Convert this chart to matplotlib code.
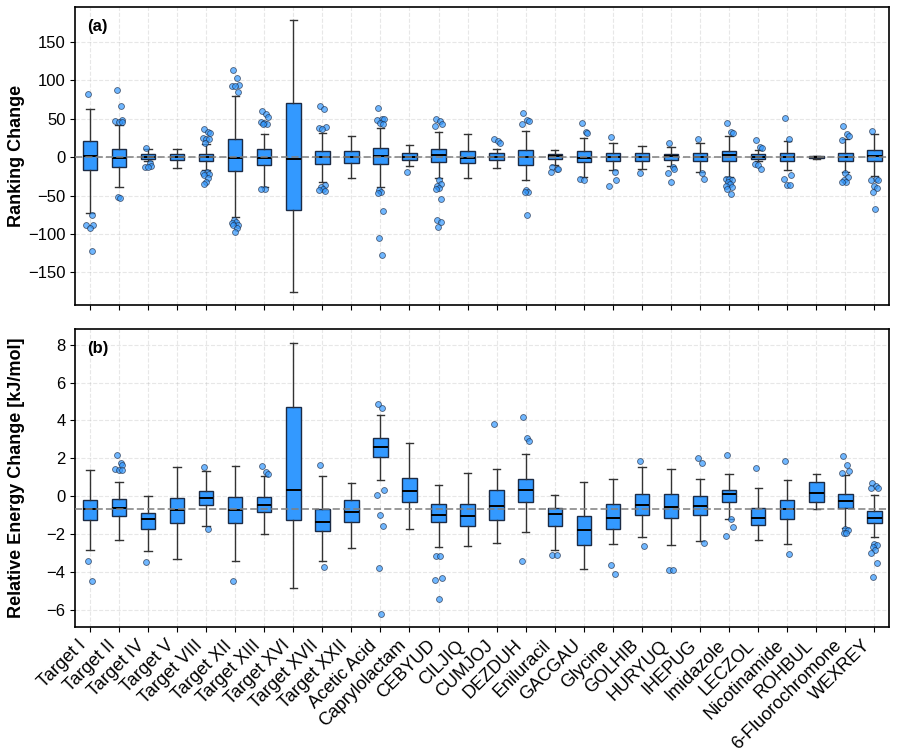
import numpy as np
import matplotlib
matplotlib.use("Agg")
import matplotlib.pyplot as plt

plt.rcParams['font.family'] = ['Liberation Sans', 'DejaVu Sans']

labels = ["Target I", "Target II", "Target IV", "Target V", "Target VIII", "Target XII",
          "Target XIII", "Target XVI", "Target XVII", "Target XXII", "Acetic Acid",
          "Caprylolactam", "CEBYUD", "CILJIQ", "CUMJOJ", "DEZDUH", "Eniluracil", "GACGAU",
          "Glycine", "GOLHIB", "HURYUQ", "IHEPUG", "Imidazole", "LECZOL", "Nicotinamide",
          "ROHBUL", "6-Fluorochromone", "WEXREY"]

# ranking change: whisker low, q1, median, q3, whisker high
rank_lo = [-73, -38.5, -5.6, -13.9, -17, -78, -39, -175, -32.5, -27, -39, -12, -27.7, -27.7,
           -14.7, -30, -10.8, -26, -16.5, -16, -12, -19, -26.4, -5.6, -17.3, -2.6, -19, -25]
rank_q1 = [-17.3, -12.6, -2.2, -4.3, -5.2, -18.2, -10, -69.3, -9, -7.4, -9, -4.3, -6, -7.8,
           -4.3, -10, -2.2, -7, -4.8, -4.8, -3.5, -5.2, -5.6, -2.2, -5.6, -1.3, -5.2, -5.6]
rank_med = [1, -1.3, 0.4, 0.6, 0, -0.6, -1, -3, 0.6, 0, 1.3, 0.6, 2.2, -1.5,
            0, 0, 1.3, -1.3, 0.4, 0.4, 1.7, 0.4, 2.6, 0.6, 0.4, 0, 0.6, 1.7]
rank_q3 = [21.2, 10, 3.5, 3.5, 4.3, 23, 10, 71, 8.2, 7.4, 11.3, 4.8, 10, 7.8,
           4.8, 9, 4.3, 7.4, 5.2, 4.8, 4.3, 4.8, 7.8, 3.5, 5.6, 1.3, 4.8, 8.7]
rank_hi = [62, 42.4, 10, 10, 17, 79, 30, 178, 31, 27, 37.7, 15.6, 33, 30.7,
           10, 34, 9, 25, 19, 15, 13, 18, 27, 9.5, 21.6, 2, 23, 30]
rank_out = [
    [82, -75, -88, -88, -92, -122],
    [87, 67, 48, 47, 46, 46, -52, -53],
    [12, -8, -11, -13, -13],
    [],
    [37, 33, 31, 25, 24, 23, 19, -20, -21, -22, -23, -27, -32, -35],
    [113, 103, 94, 93, 92, 85, -82, -84, -86, -88, -89, -92, -97],
    [60, 56, 52, 46, 44, 43, 43, -41, -41],
    [],
    [66, 63, 39, 38, 36, -36, -39, -41, -43, -44],
    [],
    [64, 50, 49, 48, 45, 43, -43, -45, -47, -70, -105, -128],
    [-20],
    [49, 47, 43, 41, -30, -35, -38, -40, -42, -55, -82, -84, -91],
    [],
    [23, 21, 18],
    [58, 48, 47, 43, -43, -45, -46, -76],
    [-13, -15, -16, -19],
    [45, 33, 31, -28, -30],
    [26, -20, -30, -37],
    [-21],
    [18, -13, -15, -21, -33],
    [24, -21, -28],
    [44, 33, 32, -28, -29, -30, -32, -35, -37, -39, -41, -48],
    [22, 13, 12, -9, -10, -15],
    [51, 24, -23, -28, -36, -36],
    [],
    [40, 30, 28, 22, -21, -26, -30, -32, -32],
    [34, -29, -30, -30, -37, -40, -46, -67],
]

# relative energy change [kJ/mol]
en_lo = [-2.83, -2.34, -2.87, -3.31, -1.6, -3.45, -2.0, -4.85, -3.43, -2.74, 0.86, -1.71, -2.71, -2.62,
         -2.46, -1.9, -2.85, -3.85, -2.55, -2.18, -2.59, -2.36, -1.18, -2.29, -2.55, -0.7, -1.67, -2.18]
en_q1 = [-1.28, -1.04, -1.76, -1.42, -0.49, -1.44, -0.86, -1.25, -1.86, -1.35, 2.06, -0.3, -1.39, -1.57,
         -1.25, -0.3, -1.55, -2.59, -1.71, -0.97, -1.14, -0.97, -0.3, -1.5, -1.18, -0.33, -0.62, -1.44]
en_med = [-0.69, -0.63, -1.2, -0.72, -0.12, -0.74, -0.49, 0.3, -1.34, -0.86, 2.6, 0.25, -1.02, -1.04,
          -0.51, 0.32, -0.95, -1.81, -1.13, -0.49, -0.55, -0.51, 0.09, -1.13, -0.69, 0.19, -0.25, -1.13]
en_q3 = [-0.19, -0.14, -0.91, -0.09, 0.25, -0.07, -0.07, 4.73, -0.69, -0.18, 3.06, 0.97, -0.39, -0.39,
         0.35, 0.88, -0.65, -1.07, -0.44, 0.14, 0.14, 0.0, 0.35, -0.65, -0.18, 0.77, 0.09, -0.77]
en_hi = [1.37, 0.77, 0.02, 1.53, 1.32, 1.57, 1.09, 8.11, 1.04, 0.67, 4.27, 2.81, 0.6, 1.23,
         1.42, 2.25, 0.04, 0.77, 0.91, 1.55, 1.44, 0.93, 1.18, 0.42, 0.86, 1.18, 1.11, 0.04]
en_out = [
    [-3.43, -4.47],
    [2.16, 1.76, 1.67, 1.44, 1.39, 1.37],
    [-3.48],
    [],
    [1.53, -1.71],
    [-4.49],
    [1.58, 1.25, 1.16],
    [],
    [1.65, -3.75],
    [],
    [4.87, 4.68, 0.35, 0.07, -0.99, -1.6, -3.8, -6.21],
    [],
    [-3.15, -3.17, -4.34, -4.43, -5.45],
    [],
    [3.83],
    [4.17, 3.08, 2.92, -3.43],
    [-3.1, -3.11],
    [],
    [-3.61, -4.13],
    [1.83, -2.62],
    [-3.9, -3.92],
    [2.02, 1.76, -2.48],
    [2.18, -1.21, -1.65, -2.11],
    [1.51],
    [1.83, -3.03],
    [],
    [2.11, 1.62, 1.35, 1.21, -1.72, -1.79, -1.93, -1.93],
    [0.69, 0.51, 0.42, 0.42, -2.53, -2.6, -2.67, -2.83, -2.99, -3.55, -4.27],
]

rank_ref = 0.0
energy_ref = -0.67

jitter = np.array([-0.08, 0.06, 0.12, -0.12, 0.0, 0.09, -0.04, 0.03, -0.1, 0.1, -0.06, 0.07, -0.02])


def draw_panel(ax, lo, q1, med, q3, hi, outs, ref, ylabel, tag):
    stats = []
    for i in range(len(labels)):
        stats.append(dict(whislo=lo[i], q1=q1[i], med=med[i], q3=q3[i], whishi=hi[i], fliers=[]))
    pos = np.arange(len(labels))
    ax.bxp(stats, positions=pos, widths=0.5, patch_artist=True, showfliers=False,
           boxprops=dict(facecolor='#3399ff', edgecolor='#1c2b45', linewidth=1.0),
           medianprops=dict(color='black', linewidth=1.4),
           whiskerprops=dict(color='#333333', linewidth=1.0),
           capprops=dict(color='#333333', linewidth=1.0))
    for i, vals in enumerate(outs):
        if not vals:
            continue
        xs = pos[i] + jitter[np.arange(len(vals)) % len(jitter)]
        ax.scatter(xs, vals, s=18, color='#3399ff', alpha=0.7, edgecolors='#1c2b45',
                   linewidths=0.6, zorder=3)
    ax.axhline(ref, color='gray', linestyle='--', linewidth=1.4, alpha=0.8, zorder=4)
    ax.grid(True, linestyle='--', alpha=0.3)
    ax.set_axisbelow(True)
    ax.set_xlim(-0.5, len(labels) - 0.5)
    ax.set_ylabel(ylabel, fontsize=13, fontweight='bold')
    ax.yaxis.set_label_coords(-0.062, 0.5)
    ax.tick_params(axis='y', labelsize=12)
    ax.text(0.015, 0.96, tag, transform=ax.transAxes, fontsize=12, fontweight='bold', va='top')
    for s in ax.spines.values():
        s.set_linewidth(1.2)


fig, (ax1, ax2) = plt.subplots(2, 1, figsize=(8.97, 7.54), dpi=100, sharex=True)
fig.subplots_adjust(left=0.084, right=0.991, top=0.991, bottom=0.168, hspace=0.08)

draw_panel(ax1, rank_lo, rank_q1, rank_med, rank_q3, rank_hi, rank_out, rank_ref,
           "Ranking Change", "(a)")
draw_panel(ax2, en_lo, en_q1, en_med, en_q3, en_hi, en_out, energy_ref,
           "Relative Energy Change [kJ/mol]", "(b)")

ax1.set_yticks([-150, -100, -50, 0, 50, 100, 150])
ax2.set_yticks([-6, -4, -2, 0, 2, 4, 6, 8])
ax2.set_xticks(np.arange(len(labels)))
ax2.set_xticklabels(labels, rotation=45, ha='right', fontsize=13)

fig.savefig("out.png", dpi=100)
